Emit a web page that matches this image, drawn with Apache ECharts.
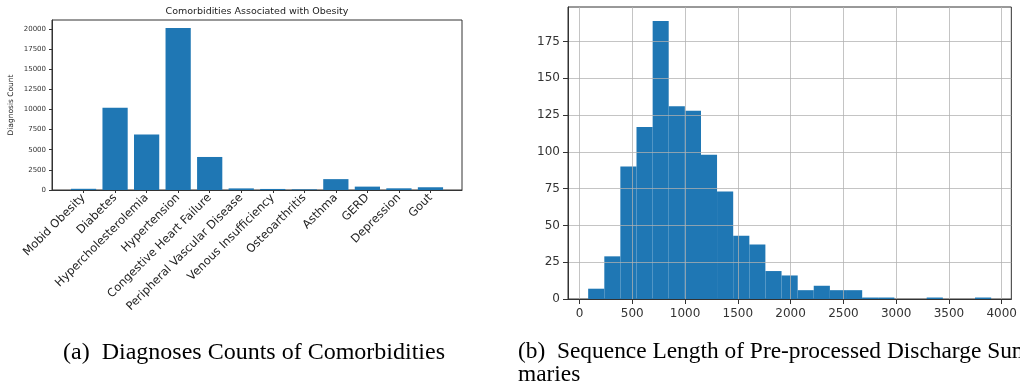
<!DOCTYPE html>
<html><head><meta charset="utf-8">
<script src="https://cdn.jsdelivr.net/npm/echarts@6/dist/echarts.min.js"></script>
<style>html,body{margin:0;padding:0;background:#fff}#c{width:1020px;height:390px}</style>
</head><body><div id="c"></div>
<script>
// ---- data ----
const comorbidities = ['Mobid Obesity', 'Diabetes', 'Hypercholesterolemia', 'Hypertension',
  'Congestive Heart Failure', 'Peripheral Vascular Disease', 'Venous Insufficiency',
  'Osteoarthritis', 'Asthma', 'GERD', 'Depression', 'Gout'];
const diagnosisCounts = [150, 10200, 6900, 20100, 4100, 200, 130, 80, 1350, 420, 210, 340];
const countTicks = [0, 2500, 5000, 7500, 10000, 12500, 15000, 17500, 20000];

const binEdges = [82, 235, 387, 540, 693, 845, 998, 1151, 1303, 1456, 1609, 1761, 1914,
  2067, 2219, 2372, 2525, 2678, 2830, 2983, 3136, 3289, 3442, 3594, 3747, 3900];
const binCounts = [7, 29, 90, 117, 189, 131, 128, 98, 73, 43, 37, 19, 16,
  6, 9, 6, 6, 1, 1, 0, 0, 1, 0, 0, 1];
const lengthTicks = [0, 500, 1000, 1500, 2000, 2500, 3000, 3500, 4000];
const freqTicks = [0, 25, 50, 75, 100, 125, 150, 175];

const chartTitle = 'Comorbidities Associated with Obesity';
const captionA = '(a)  Diagnoses Counts of Comorbidities';
const captionB1 = '(b)  Sequence Length of Pre-processed Discharge Sum-';
const captionB2 = 'maries';

// ---- chart ----
const BLUE = '#1f77b4';
const FONT = 'DejaVu Sans';
const plain = v => String(v);
const padCats = [''].concat(comorbidities, ['']);
const padVals = ['-'].concat(diagnosisCounts, ['-']);
const histData = binCounts.map((c, i) => [binEdges[i], binEdges[i + 1], c]);

const chart = echarts.init(document.getElementById('c'), null, {renderer: 'canvas'});
chart.setOption({
  animation: false,
  backgroundColor: '#fff',
  textStyle: {fontFamily: FONT},
  grid: [
    {left: 52, top: 20, width: 410, height: 170, show: true, borderColor: '#333', borderWidth: 1, backgroundColor: 'transparent'},
    {left: 568, top: 7, width: 445, height: 292, show: true, borderColor: '#333', borderWidth: 1, backgroundColor: 'transparent'}
  ],
  xAxis: [
    {
      gridIndex: 0, type: 'category', data: padCats, boundaryGap: false,
      axisLine: {lineStyle: {color: '#333'}},
      axisTick: {length: 3, lineStyle: {color: '#333'}, interval: (i, v) => v !== ''},
      axisLabel: {interval: 0, rotate: 45, fontSize: 11.5, color: '#222', margin: 6, fontFamily: FONT},
      splitLine: {show: false}
    },
    {
      gridIndex: 1, type: 'value', min: -109, max: 4091, z: 5,
      axisLine: {onZero: false, lineStyle: {color: '#333'}},
      axisTick: {length: 5, customValues: lengthTicks, lineStyle: {color: '#333'}},
      axisLabel: {customValues: lengthTicks, formatter: plain, fontSize: 12, color: '#333', margin: 9, fontFamily: FONT},
      splitLine: {show: true, lineStyle: {color: 'rgba(176,176,176,0.75)', width: 1}}
    }
  ],
  yAxis: [
    {
      gridIndex: 0, type: 'value', min: 0, max: 21100,
      name: 'Diagnosis Count', nameLocation: 'middle', nameRotate: 90, nameGap: 37,
      nameTextStyle: {fontSize: 7.5, color: '#222', fontFamily: FONT},
      axisLine: {show: true, lineStyle: {color: '#333'}},
      axisTick: {show: true, length: 3, customValues: countTicks, lineStyle: {color: '#333'}},
      axisLabel: {customValues: countTicks, formatter: plain, fontSize: 7, color: '#333', margin: 6, fontFamily: FONT},
      splitLine: {show: false}
    },
    {
      gridIndex: 1, type: 'value', min: 0, max: 198.5, z: 5,
      axisLine: {show: true, onZero: false, lineStyle: {color: '#333'}},
      axisTick: {show: true, length: 5, customValues: freqTicks, lineStyle: {color: '#333'}},
      axisLabel: {customValues: freqTicks, formatter: plain, fontSize: 12, color: '#333', margin: 8, fontFamily: FONT},
      splitLine: {show: true, lineStyle: {color: 'rgba(176,176,176,0.75)', width: 1}}
    }
  ],
  series: [
    {
      type: 'bar', xAxisIndex: 0, yAxisIndex: 0, data: padVals,
      barWidth: '80%', itemStyle: {color: BLUE}
    },
    {
      type: 'custom', xAxisIndex: 1, yAxisIndex: 1, data: histData, z: 2,
      encode: {x: [0, 1], y: 2},
      renderItem: function (params, api) {
        const p0 = api.coord([api.value(0), api.value(2)]);
        const p1 = api.coord([api.value(1), 0]);
        return {
          type: 'rect',
          shape: {x: p0[0], y: p0[1], width: p1[0] - p0[0], height: p1[1] - p0[1]},
          style: {fill: BLUE}
        };
      }
    }
  ],
  graphic: [
    {type: 'text', x: 257, y: 12, style: {text: chartTitle, font: '9.5px "DejaVu Sans"', fill: '#222', align: 'center', verticalAlign: 'middle'}},
    {type: 'text', x: 254, y: 353, style: {text: captionA, font: '24px "Liberation Serif"', fill: '#000', align: 'center', verticalAlign: 'middle'}},
    {type: 'text', x: 518, y: 352, style: {text: captionB1, font: '23.4px "Liberation Serif"', fill: '#000', align: 'left', verticalAlign: 'middle'}},
    {type: 'text', x: 518, y: 375, style: {text: captionB2, font: '23.4px "Liberation Serif"', fill: '#000', align: 'left', verticalAlign: 'middle'}}
  ]
});
</script>
</body></html>
